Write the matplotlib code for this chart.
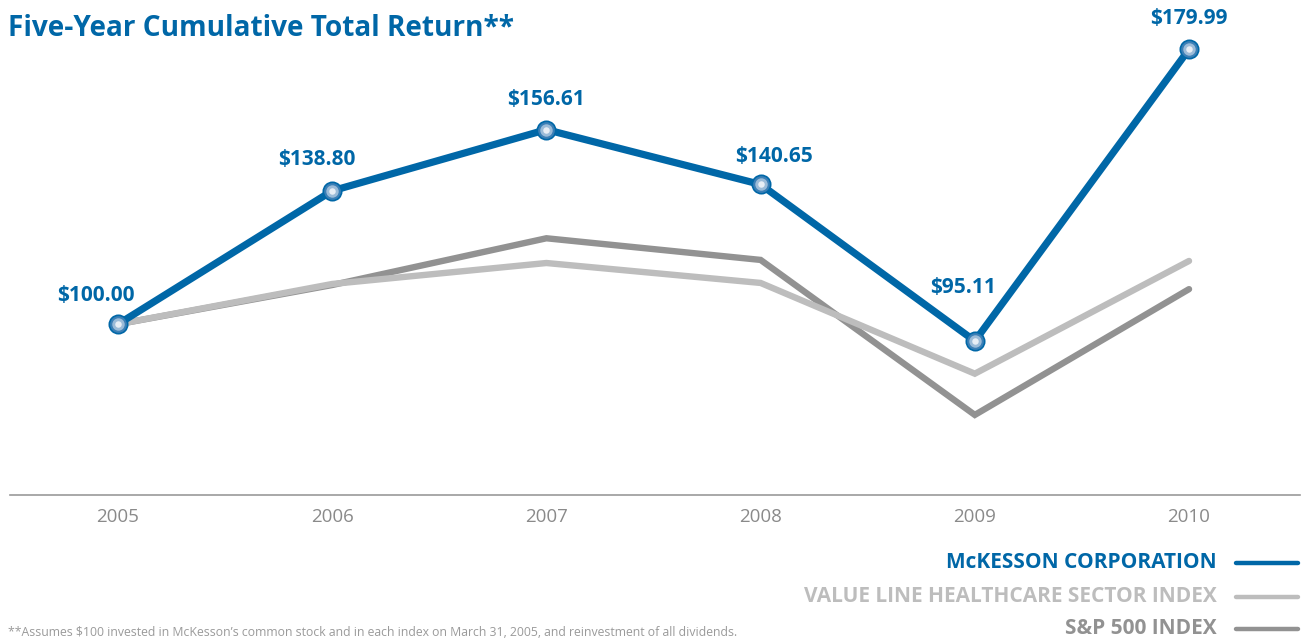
import matplotlib
matplotlib.use("Agg")

import matplotlib.pyplot as plt
from matplotlib.lines import Line2D

# data
years = [2005, 2006, 2007, 2008, 2009, 2010]
mckesson = [100.00, 138.80, 156.61, 140.65, 95.11, 179.99]
value_line = [100.0, 111.7, 117.8, 112.0, 85.6, 118.4]
sp500 = [100.0, 111.4, 125.0, 118.7, 73.6, 110.2]
labels = ["$100.00", "$138.80", "$156.61", "$140.65", "$95.11", "$179.99"]
series_names = ["McKESSON CORPORATION", "VALUE LINE HEALTHCARE SECTOR INDEX", "S&P 500 INDEX"]

BLUE = "#0067a7"
LGRAY = "#bdbdbd"
DGRAY = "#929292"
FONT = "Open Sans"

W, H = 1302, 639
fig = plt.figure(figsize=(W / 100, H / 100), dpi=100)

# axes placed in pixel terms
left, right, bottom, top = 10, 1300, 495, 30
ax = fig.add_axes([left / W, 1 - bottom / H, (right - left) / W, (bottom - top) / H])
ax.set_xlim(2004.496, 2010.518)
ax.set_ylim(50.3, 185.6)

ax.plot(years, sp500, color=DGRAY, lw=4.6, solid_capstyle="round", solid_joinstyle="miter", zorder=2)
ax.plot(years, value_line, color=LGRAY, lw=4.6, solid_capstyle="round", solid_joinstyle="miter", zorder=3)
ax.plot(years, mckesson, color=BLUE, lw=5.2, solid_capstyle="round", zorder=4)

# sphere-like markers
ax.scatter(years, mckesson, s=175, color="#3b7fb6", edgecolor=BLUE, linewidth=1.2, zorder=5)
ax.scatter(years, mckesson, s=80, color="#9bbbd8", linewidth=0, zorder=6)
ax.scatter(years, mckesson, s=22, color="#e8eef5", linewidth=0, zorder=7)

offsets = [(-22, 29), (-15, 31), (0, 30), (13, 28), (-12, 53), (0, 31)]
for x, y, txt, off in zip(years, mckesson, labels, offsets):
    ax.annotate(txt, (x, y), xytext=off, textcoords="offset pixels",
                ha="center", va="center", color=BLUE, fontsize=15,
                fontweight="bold", family=FONT, zorder=8)

for s in ["top", "right", "left"]:
    ax.spines[s].set_visible(False)
ax.spines["bottom"].set_color("#9a9a9a")
ax.spines["bottom"].set_linewidth(1.2)
ax.set_yticks([])
ax.set_xticks(years)
ax.set_xticklabels([str(y) for y in years], family=FONT, fontsize=13.5, color="#8a8a8a")
ax.tick_params(axis="x", length=0, pad=9)

fig.text(8 / W, 1 - 28 / H, "Five-Year Cumulative Total Return**", color=BLUE,
         fontsize=20.2, fontweight="bold", family=FONT, ha="left", va="center")

# legend drawn by hand, right aligned
leg_colors = [BLUE, LGRAY, DGRAY]
leg_y = [563, 597, 629]
for name, c, yy in zip(series_names, leg_colors, leg_y):
    fig.text(1217 / W, 1 - yy / H, name, color=c, fontsize=15, fontweight="bold",
             family=FONT, ha="right", va="center")
    fig.add_artist(Line2D([1236 / W, 1298 / W], [1 - yy / H, 1 - yy / H], color=c,
                          lw=3.2, solid_capstyle="round", transform=fig.transFigure))

fig.text(8 / W, 1 - 632 / H,
         "**Assumes $100 invested in McKesson\u2019s common stock and in each index on March 31, 2005, and reinvestment of all dividends.",
         color="#9a9a9a", fontsize=8.8, family=FONT, ha="left", va="center")

fig.savefig("out.png", dpi=100)
